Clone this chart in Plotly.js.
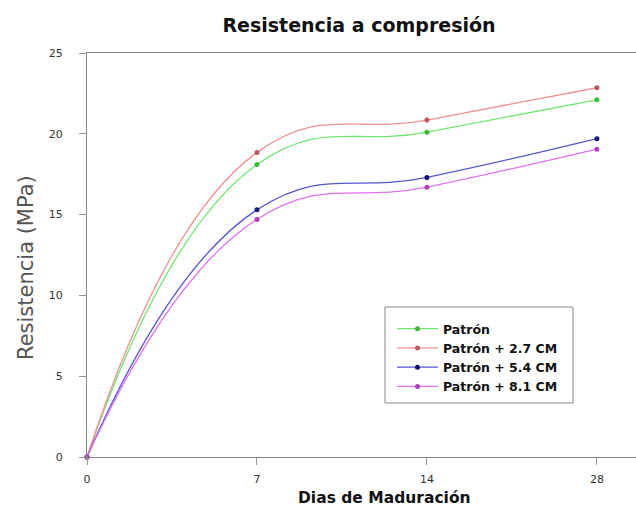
<!DOCTYPE html>
<html><head><meta charset="utf-8">
<script src="https://cdn.plot.ly/plotly-3.0.1.min.js"></script>
<style>body{margin:0;padding:0;background:#fff}#chart{width:636px;height:508px}</style>
</head><body><div id="chart"></div>
<script>
const dias = ['0', '7', '14', '28'];
const patron = [0, 18.1, 20.1, 22.1];
const patron27 = [0, 18.85, 20.85, 22.85];
const patron54 = [0, 15.3, 17.3, 19.7];
const patron81 = [0, 14.7, 16.7, 19.05];
const names = ['Patrón', 'Patrón + 2.7 CM', 'Patrón + 5.4 CM', 'Patrón + 8.1 CM'];
const lineColors = ['#70e670', '#f09090', '#5555cc', '#e070ef'];
const markerColors = ['#3cb83c', '#b85a5a', '#14146e', '#b040b8'];
const series = [patron, patron27, patron54, patron81];
const idx = dias.map((d, i) => i);

const traces = series.map((s, k) => ({
  x: idx, y: s, name: names[k], type: 'scatter', mode: 'lines+markers',
  line: {shape: 'spline', smoothing: 1.3, color: lineColors[k], width: 1.3},
  marker: {size: 5, color: markerColors[k]},
  cliponaxis: false
}));

// plot area in px: x 87..636, y 53..457
const L = 87, R = 636, T = 53, B = 457;
const fx = px => (px - L) / (R - L);
const fy = py => (B - py) / (B - T);

const layout = {
  width: 636, height: 508,
  margin: {l: L, r: 636 - R, t: T, b: 508 - B},
  paper_bgcolor: '#fff', plot_bgcolor: '#fff',
  font: {family: 'DejaVu Sans, Liberation Sans, sans-serif', color: '#222'},
  title: {text: '<b>Resistencia a compresión</b>', font: {family: 'DejaVu Sans', size: 19, color: '#111'},
    x: 359 / 636, xanchor: 'center', y: 1 - 25 / 508, yanchor: 'middle'},
  xaxis: {
    range: [0, 3.23], tickvals: idx, ticktext: dias, showgrid: false, zeroline: false,
    showline: true, linecolor: '#888', linewidth: 1, mirror: true,
    ticks: 'outside', ticklen: 7, tickcolor: '#999', ticklabelstandoff: 5,
    tickfont: {family: 'DejaVu Sans', size: 11, color: '#333'}
  },
  yaxis: {
    range: [0, 25], tickvals: [0, 5, 10, 15, 20, 25], showgrid: false, zeroline: false,
    showline: true, linecolor: '#888', linewidth: 1,
    ticks: 'outside', ticklen: 7, tickcolor: '#999', ticklabelstandoff: 14,
    tickfont: {family: 'DejaVu Sans', size: 11, color: '#333'}
  },
  annotations: [
    {text: '<b>Dias de Maduración</b>', xref: 'paper', yref: 'paper', x: fx(384), y: fy(498),
     xanchor: 'center', yanchor: 'middle', showarrow: false,
     font: {family: 'DejaVu Sans', size: 15.5, color: '#111'}},
    {text: 'Resistencia (MPa)', xref: 'paper', yref: 'paper', x: fx(26), y: fy(268),
     xanchor: 'center', yanchor: 'middle', showarrow: false, textangle: -90,
     font: {family: 'DejaVu Sans', size: 21, color: '#555'}}
  ],
  shapes: [
    {type: 'rect', xref: 'paper', yref: 'paper', x0: fx(385), x1: fx(573), y0: fy(403), y1: fy(307),
     line: {color: '#888', width: 1}, fillcolor: '#fff', layer: 'above'}
  ],
  showlegend: true,
  legend: {x: fx(392), y: fy(314), xanchor: 'left', yanchor: 'top', bgcolor: 'rgba(0,0,0,0)',
    borderwidth: 0, font: {family: 'DejaVu Sans', size: 12.5, color: '#111', weight: 'bold'},
    tracegroupgap: 0, itemwidth: 41}
};
Plotly.newPlot('chart', traces, layout, {displayModeBar: false, staticPlot: true});
</script></body></html>
